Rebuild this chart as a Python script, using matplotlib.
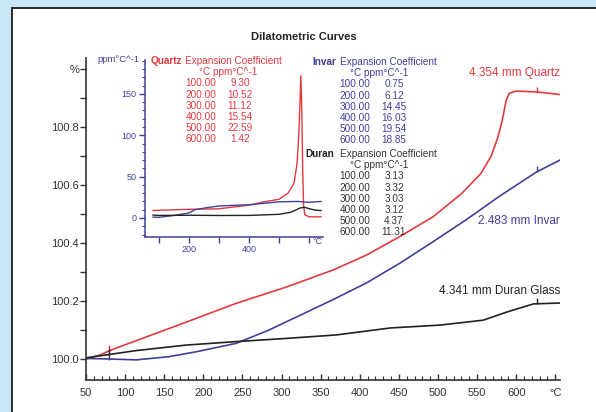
import numpy as np
import matplotlib
matplotlib.use("Agg")
import matplotlib.pyplot as plt
from matplotlib.patches import Rectangle

plt.rcParams['font.family'] = ['Liberation Sans', 'DejaVu Sans']

# main dilatometric curves (temperature degC, length %)
quartz_t = [50, 68, 82, 114, 178, 242, 306, 366, 409, 451, 494, 530, 555, 568, 576, 582, 587, 591,
            600, 627, 656]
quartz_v = [100.000, 100.014, 100.031, 100.063, 100.127, 100.192, 100.248, 100.307, 100.359, 100.422,
            100.491, 100.570, 100.640, 100.700, 100.760, 100.820, 100.890, 100.916, 100.924, 100.921,
            100.912]

invar_t = [50, 80, 114, 156, 191, 242, 284, 327, 366, 409, 451, 494, 537, 579, 626, 656]
invar_v = [100.002, 100.000, 99.997, 100.008, 100.025, 100.054, 100.100, 100.155, 100.205, 100.263,
           100.330, 100.405, 100.482, 100.562, 100.645, 100.686]

duran_t = [50, 114, 178, 242, 306, 370, 439, 503, 558, 588, 622, 656]
duran_v = [100.004, 100.029, 100.048, 100.060, 100.071, 100.083, 100.107, 100.117, 100.134,
           100.162, 100.190, 100.193]

# inset: expansion coefficient curves (ppm/degC)
q_alpha_t = [80, 100, 200, 300, 400, 450, 500, 530, 550, 560, 566, 570, 573, 576, 579, 582, 586, 600, 640]
q_alpha_v = [9.0, 9.3, 10.5, 11.1, 15.5, 19.5, 22.6, 30, 42, 65, 100, 140, 172, 130, 60, 15, 4, 1.4, 1.4]

i_alpha_t = [80, 100, 150, 200, 220, 260, 300, 400, 500, 560, 600, 640]
i_alpha_v = [1.0, 0.8, 3.0, 6.1, 10.0, 12.5, 14.5, 16.0, 19.5, 20.0, 18.9, 20.0]

d_alpha_t = [80, 100, 200, 300, 400, 500, 540, 570, 585, 600, 620, 640]
d_alpha_v = [3.5, 3.1, 3.3, 3.0, 3.1, 4.4, 7.0, 12.0, 13.0, 11.3, 9.5, 9.0]

# tables
table_temps = ["100.00", "200.00", "300.00", "400.00", "500.00", "600.00"]
quartz_coef = ["9.30", "10.52", "11.12", "15.54", "22.59", "1.42"]
invar_coef = ["0.75", "6.12", "14.45", "16.03", "19.54", "18.85"]
duran_coef = ["3.13", "3.32", "3.03", "3.12", "4.37", "11.31"]

mark_t = [80, 627]

RED = '#e23a40'
BLUE = '#40409a'
BLACK = '#222222'
W, H = 596, 412


def fx(px):
    return px / W


def fy(py):
    return 1 - py / H


fig = plt.figure(figsize=(W / 100, H / 100), dpi=100)
fig.patch.set_facecolor('#c8e8f8')
fig.add_artist(Rectangle((fx(12), -0.02), 1.0, fy(8) + 0.02, transform=fig.transFigure,
                         facecolor='white', edgecolor='#1a1a1a', lw=1.3, zorder=-5))

# ---- main axes ----
ax = fig.add_axes([fx(86), fy(380), fx(560) - fx(86), fy(58) - fy(380)])
ax.set_facecolor('none')
ax.set_xlim(50, 656)
ax.set_ylim(99.9276, 101.038)

for t, v, c in [(quartz_t, quartz_v, RED), (invar_t, invar_v, BLUE), (duran_t, duran_v, BLACK)]:
    ax.plot(t, v, color=c, lw=1.2)
    ax.plot(mark_t, np.interp(mark_t, t, v) + 0.008, ls='none', marker='|',
            color=c, markersize=5, mew=1.0)

ax.spines['top'].set_visible(False)
ax.spines['right'].set_visible(False)
for s in ['left', 'bottom']:
    ax.spines[s].set_color('#333333')
    ax.spines[s].set_linewidth(1.2)

ax.set_xticks(np.arange(50, 651, 50))
ax.set_xticklabels([str(v) for v in range(50, 601, 50)] + ['°C'])
ax.set_xticks(np.arange(50, 651, 10), minor=True)
ax.tick_params(axis='x', which='both', direction='in', colors='#333333', labelsize=8, pad=6)
ax.tick_params(axis='x', which='major', length=4, width=1)
ax.tick_params(axis='x', which='minor', length=3, width=0.8)

ax.set_yticks([100.0, 100.2, 100.4, 100.6, 100.8, 101.0])
ax.set_yticklabels(['100.0', '100.2', '100.4', '100.6', '100.8', '%'])
ax.set_yticks(np.arange(100.1, 100.95, 0.2), minor=True)
ax.tick_params(axis='y', which='both', direction='out', colors='#333333', labelsize=8, pad=1)
ax.tick_params(axis='y', which='major', length=4, width=1)
ax.tick_params(axis='y', which='minor', length=4, width=1)

ax.text(656, 100.985, '4.354 mm Quartz', color=RED, fontsize=8.5, ha='right', va='center')
ax.text(656, 100.477, '2.483 mm Invar', color=BLUE, fontsize=8.5, ha='right', va='center')
ax.text(656, 100.235, '4.341 mm Duran Glass', color=BLACK, fontsize=8.5, ha='right', va='center')

fig.text(fx(304), fy(37), 'Dilatometric Curves', fontsize=8, fontweight='bold',
         color='#222222', ha='center', va='center')

# ---- inset axes ----
ins = fig.add_axes([fx(145), fy(237), fx(323) - fx(145), fy(60) - fy(237)])
ins.set_facecolor('none')
ins.set_xlim(53.3, 646.7)
ins.set_ylim(-23, 191)
ins.plot(q_alpha_t, q_alpha_v, color=RED, lw=1.0)
ins.plot(i_alpha_t, i_alpha_v, color=BLUE, lw=1.0)
ins.plot(d_alpha_t, d_alpha_v, color=BLACK, lw=1.0)
ins.spines['top'].set_visible(False)
ins.spines['right'].set_visible(False)
for s in ['left', 'bottom']:
    ins.spines[s].set_color(BLUE)
    ins.spines[s].set_linewidth(1.1)
ins.set_yticks([0, 50, 100, 150])
ins.set_yticks(np.arange(-20, 191, 10), minor=True)
ins.set_xticks([100, 200, 300, 400, 500, 600])
ins.set_xticklabels(['', '200', '', '400', '', ''])
ins.tick_params(which='both', direction='out', colors=BLUE, labelsize=6.5, pad=2)
ins.tick_params(which='major', length=4, width=1)
ins.tick_params(which='minor', length=2.5, width=0.8)
ins.text(630, -23, '°C', transform=ins.transData, color=BLUE, fontsize=6.5,
         ha='center', va='top')
fig.text(fx(139), fy(60), 'ppm°C^-1', color=BLUE, fontsize=6.8, ha='right', va='center')


# ---- coefficient tables ----
def draw_table(name, name_right, head_right, col1_x, col2_x, unit_x, top, coefs, color, bold_color):
    fs = 7.2
    fig.text(fx(name_right), fy(top), name, color=bold_color, fontsize=fs, fontweight='bold',
             ha='right', va='center')
    fig.text(fx(head_right), fy(top), 'Expansion Coefficient', color=color, fontsize=fs,
             ha='right', va='center')
    fig.text(fx(unit_x), fy(top + 11.2), '°C ppm°C^-1', color=color, fontsize=fs,
             ha='center', va='center')
    for i, (tt, cc) in enumerate(zip(table_temps, coefs)):
        y = top + 11.2 * (i + 2)
        fig.text(fx(col1_x), fy(y), tt, color=color, fontsize=fs, ha='center', va='center')
        fig.text(fx(col2_x), fy(y), cc, color=color, fontsize=fs, ha='center', va='center')


draw_table('Quartz', 182, 282, 201, 240, 228, 61, quartz_coef, RED, RED)
draw_table('Invar', 336, 437, 355, 394, 379, 62, invar_coef, BLUE, BLUE)
draw_table('Duran', 334, 437, 355, 394, 379, 154, duran_coef, '#333333', BLACK)

fig.savefig('out.png', dpi=100)
